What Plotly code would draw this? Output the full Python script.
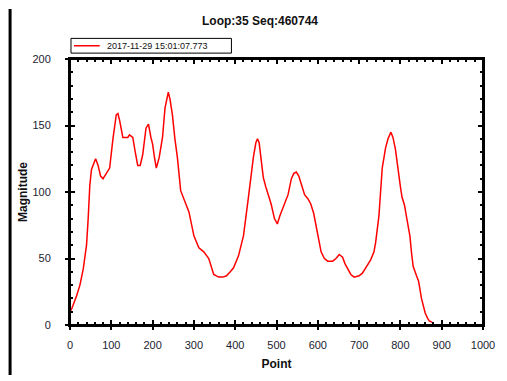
import plotly.graph_objects as go

# trace
point = [0, 4, 16, 24, 32, 40, 44, 48, 52, 56, 62, 68, 74, 80, 88, 96, 104, 112, 116, 120, 128, 136,
         140, 144, 152, 158, 164, 170, 176, 184, 190, 196, 200, 205, 209, 216, 224, 230, 234, 238, 242,
         248, 254, 260, 268, 276, 288, 300, 312, 324, 336, 348, 360, 370, 379, 388, 396, 408, 420, 432,
         438, 444, 450, 454, 458, 464, 468, 474, 480, 487, 495, 502, 508, 516, 522, 528, 536, 542, 548,
         554, 560, 568, 576, 583, 590, 596, 602, 608, 616, 624, 636, 644, 652, 660, 666, 672, 680, 688,
         700, 708, 716, 728, 736, 740, 748, 752, 756, 764, 770, 777, 782, 788, 795, 800, 804, 810, 815,
         823, 827, 831, 839, 844, 851, 856, 860, 866, 870, 877]
magnitude = [10, 12, 22, 30, 42, 60, 80, 105, 117, 120, 125, 120, 112, 110, 114, 118, 140, 158, 159, 154, 141, 141,
             141, 143, 141, 130, 120, 120, 128, 148, 151, 141, 136, 125, 118, 126, 141, 163, 170, 175, 170,
             158, 140, 126, 101, 95, 85, 67, 58, 55, 50, 38, 36, 36, 37, 40, 43, 52, 67, 96,
             112, 126, 137, 140, 137, 120, 111, 104, 98, 91, 80, 76, 82, 89, 93, 98, 110, 114, 115,
             112, 106, 98, 95, 91, 84, 75, 64, 55, 50, 48, 48, 50, 53, 51, 46, 42, 38, 36,
             37, 39, 43, 49, 55, 62, 82, 100, 118, 133, 140, 145, 141, 132, 114, 104, 96, 90, 81,
             67, 54, 44, 37, 33, 20, 13, 9, 5, 3, 2]

legend_name = "2017-11-29 15:01:07.773"
title_text = "Loop:35 Seq:460744"

# the page keeps its default 8px body margin, so the figure is 8px smaller
OFF = 8
W, H = 507 - OFF, 381 - OFF
ML, MR, MT, MB = 70 - OFF, 20, 59 - OFF, 51
PW, PH = W - ML - MR, H - MT - MB
FONT = "Liberation Sans, Arial, sans-serif"


# page pixel -> paper coords
def px_x(px):
    return (px - OFF - ML) / PW


def px_y(py):
    return (H - MB - (py - OFF)) / PH


fig = go.Figure()
fig.add_trace(go.Scatter(x=point, y=magnitude, mode="lines", name=legend_name, showlegend=False,
                         line=dict(color="#ff0000", width=1.5)))
# invisible traces so the helper axes (outer tick halves, labels) get drawn
for xa, ya in (("x2", "y2"), ("x3", "y3")):
    fig.add_trace(go.Scatter(x=[0], y=[0], xaxis=xa, yaxis=ya, mode="markers",
                             marker=dict(opacity=0), showlegend=False, hoverinfo="skip"))

tickfont = dict(family=FONT, size=11, color="#1c1c30")
titlefont = dict(family=FONT, size=12, color="#111111")
plain = dict(showgrid=False, zeroline=False, showline=False)

fig.update_layout(
    width=W, height=H,
    margin=dict(l=ML, r=MR, t=MT, b=MB),
    paper_bgcolor="white", plot_bgcolor="white",
    title=dict(text="<b>" + title_text + "</b>", x=(260 - OFF) / W, xanchor="center",
               y=1 - (21 - OFF) / H, yanchor="middle",
               font=dict(family=FONT, size=12, color="#111111")),
    # main axes: box with inward ticks on all four sides
    xaxis=dict(range=[0, 1000], dtick=100, tick0=0, showgrid=False, zeroline=False,
               showline=True, linecolor="black", linewidth=2, mirror="ticks",
               ticks="inside", ticklen=5, tickwidth=1.5, tickcolor="black",
               minor=dict(dtick=20, ticks="inside", ticklen=3, tickcolor="black", showgrid=False),
               showticklabels=False),
    yaxis=dict(range=[0, 200], dtick=50, tick0=0, showgrid=False, zeroline=False,
               showline=True, linecolor="black", linewidth=2, mirror="ticks",
               ticks="inside", ticklen=5, tickwidth=1.5, tickcolor="black",
               minor=dict(dtick=10, ticks="inside", ticklen=3, tickcolor="black", showgrid=False),
               showticklabels=False),
    # outward half of the major ticks on bottom / left
    xaxis2=dict(range=[0, 1000], dtick=100, overlaying="x", side="bottom", anchor="y2",
                showticklabels=False, ticks="outside", ticklen=4, tickwidth=1.5,
                tickcolor="black", **plain),
    yaxis2=dict(range=[0, 200], dtick=50, overlaying="y", side="left", anchor="x2",
                showticklabels=False, ticks="outside", ticklen=4, tickwidth=1.5,
                tickcolor="black", **plain),
    # labels, pushed out with invisible ticks
    xaxis3=dict(range=[0, 1000], dtick=100, overlaying="x", side="bottom", anchor="y3",
                ticks="outside", ticklen=10, tickcolor="rgba(0,0,0,0)", tickfont=tickfont,
                title=dict(text="<b>Point</b>", font=titlefont, standoff=9), **plain),
    yaxis3=dict(range=[0, 200], dtick=50, overlaying="y", side="left", anchor="x3",
                ticks="outside", ticklen=16, tickcolor="rgba(0,0,0,0)", tickfont=tickfont,
                title=dict(text="<b>Magnitude</b>", font=titlefont, standoff=2), **plain),
    shapes=[
        # plot frame
        dict(type="rect", xref="paper", yref="paper", x0=0, x1=1, y0=0, y1=1,
             line=dict(color="black", width=2), layer="above"),
        # window frame on the left
        dict(type="line", xref="paper", yref="paper", x0=px_x(9.5), x1=px_x(9.5),
             y0=px_y(OFF), y1=px_y(381), line=dict(color="black", width=3)),
        # legend box and its sample line
        dict(type="rect", xref="paper", yref="paper", x0=px_x(71), x1=px_x(233),
             y0=px_y(53), y1=px_y(38), line=dict(color="black", width=1), fillcolor="white"),
        dict(type="line", xref="paper", yref="paper", x0=px_x(74), x1=px_x(100),
             y0=px_y(45.5), y1=px_y(45.5), line=dict(color="#ff0000", width=1.5)),
    ],
    annotations=[
        dict(text=legend_name, xref="paper", yref="paper", x=px_x(105), y=px_y(45.5),
             xanchor="left", yanchor="middle", showarrow=False,
             font=dict(family=FONT, size=9, color="#111111")),
    ],
)

fig.write_html("out.html", config={"displayModeBar": False})
